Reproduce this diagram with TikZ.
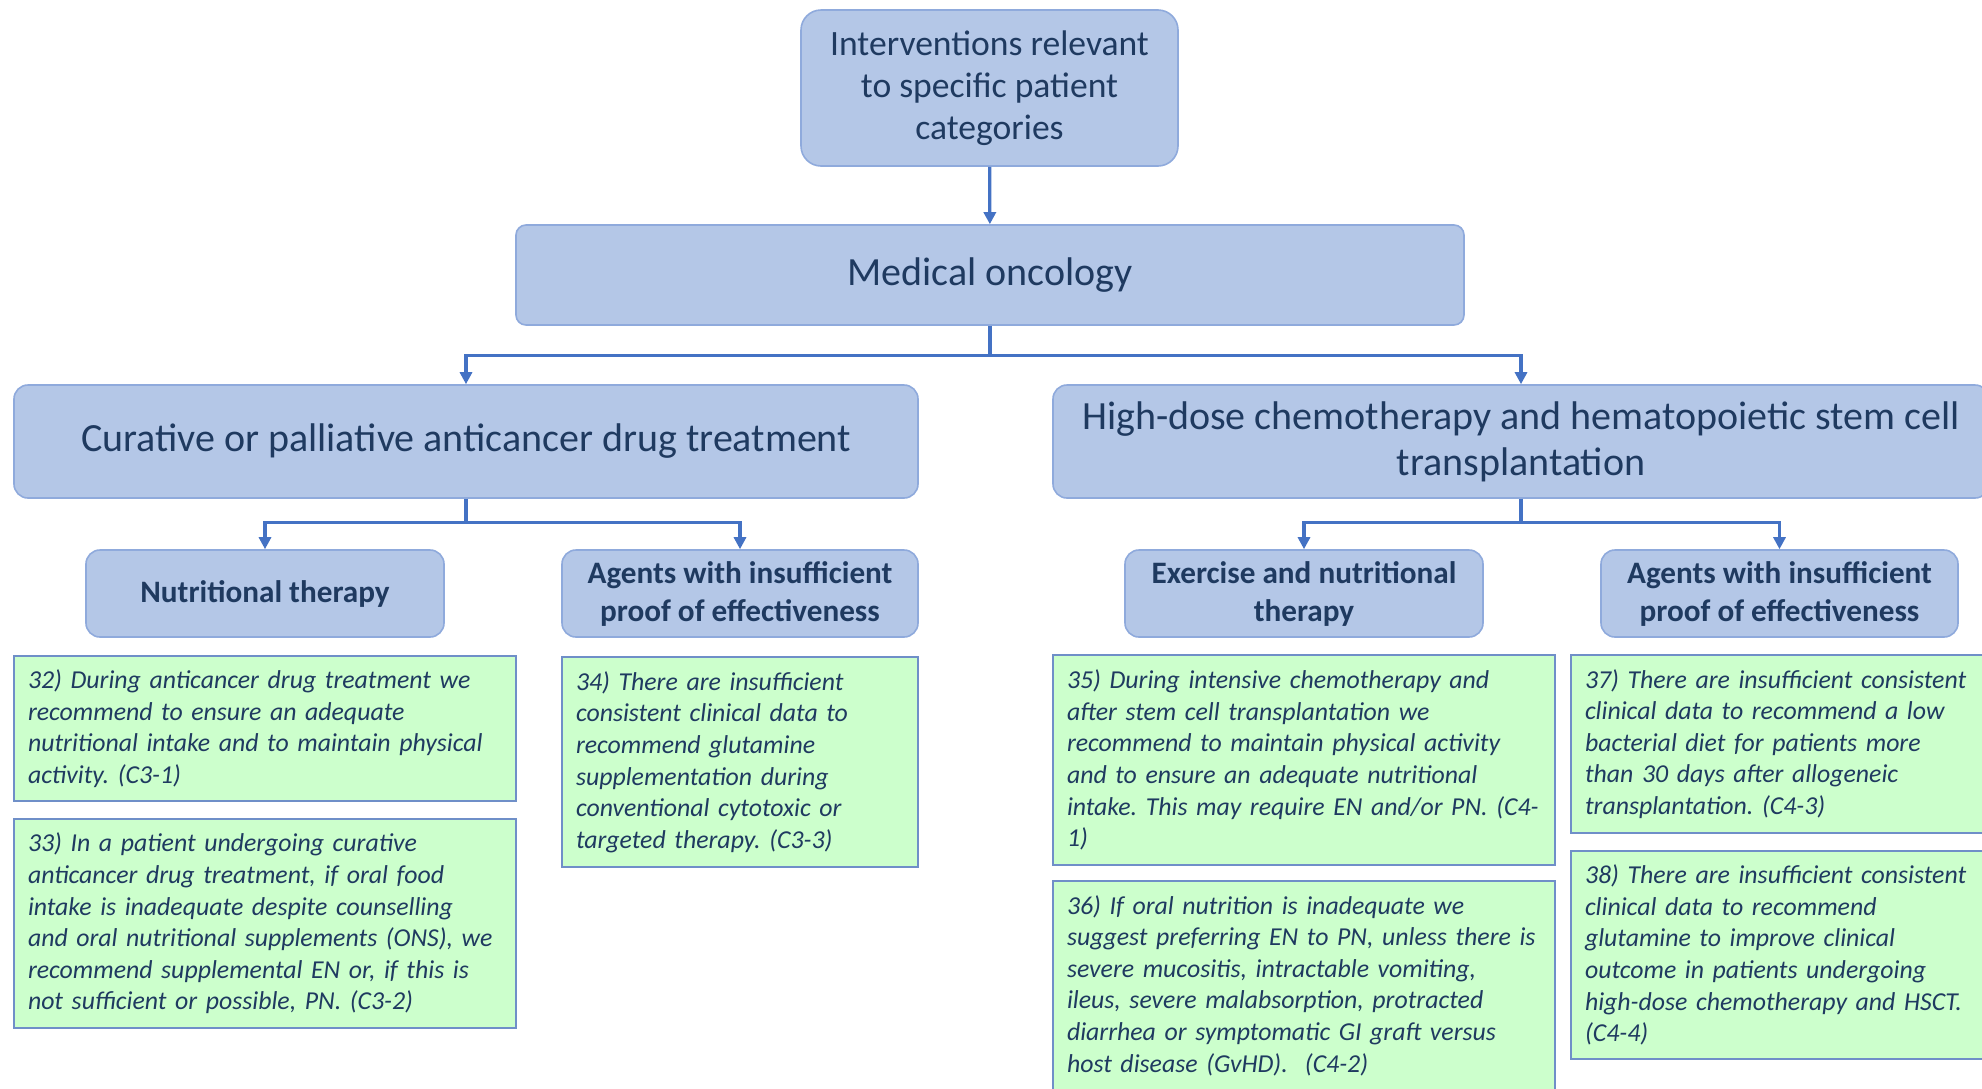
\documentclass[tikz,border=0pt]{standalone}
\usepackage{fontspec}
\setmainfont{Carlito}
\frenchspacing
\usetikzlibrary{arrows.meta,positioning}
\definecolor{boxblue}{HTML}{B4C7E7}
\definecolor{edgeblue}{HTML}{8FAADC}
\definecolor{lineblue}{HTML}{4472C4}
\definecolor{navytext}{HTML}{1F3A60}
\definecolor{boxgreen}{HTML}{CCFFCC}
\definecolor{edgegreen}{HTML}{6F8FC8}
\begin{document}
\begin{tikzpicture}[x=0.5pt,y=-0.5pt,
  bluebox/.style={draw=edgeblue,fill=boxblue,line width=0.8pt,rounded corners=7pt,text=navytext,align=center,inner sep=2pt},
  subbox/.style={bluebox,font=\fontsize{15.6}{19}\selectfont\bfseries,minimum height=43.5pt},
  greenbox/.style={draw=edgegreen,fill=boxgreen,line width=0.8pt,text=navytext,align=left,inner xsep=7pt,inner ysep=0pt,font=\fontsize{12.9}{15.8}\selectfont\itshape},
  arr/.style={draw=lineblue,line width=1.6pt,-{Triangle[length=6pt,width=6pt]}}]
\useasboundingbox[fill=white] (0,0) rectangle (1982,1088);

\node[bluebox,rounded corners=10pt,minimum width=188.5pt,minimum height=78pt,font=\fontsize{17.8}{21}\selectfont](top) at (989.5,88)
  {Interventions relevant\\to specific patient\\categories};
\node[bluebox,rounded corners=5pt,minimum width=474pt,minimum height=50pt,font=\fontsize{20}{23}\selectfont](med) at (990,275) {Medical oncology};

\node[bluebox,minimum width=452pt,minimum height=56.5pt,font=\fontsize{20}{23}\selectfont](cur) at (466,441.5)
  {Curative or palliative anticancer drug treatment};
\node[bluebox,minimum width=468pt,minimum height=56.5pt,font=\fontsize{20}{23}\selectfont](hdc) at (1521,441.5)
  {High-dose chemotherapy and hematopoietic stem cell\\transplantation};

\node[subbox,minimum width=179pt](nut) at (265,593.5) {Nutritional therapy};
\node[subbox,minimum width=178pt](agl) at (740,593.5) {Agents with insufficient\\proof of effectiveness};
\node[subbox,minimum width=179pt](exe) at (1304,593.5) {Exercise and nutritional\\therapy};
\node[subbox,minimum width=178.5pt](agr) at (1779.5,593.5) {Agents with insufficient\\proof of effectiveness};

% recommendations
\node[greenbox,text width=237pt,minimum height=72.5pt](r32) at (265,728.5)
  {32) During anticancer drug treatment we\\recommend to ensure an adequate\\nutritional intake and to maintain physical\\activity. (C3-1)};
\node[greenbox,text width=237pt,minimum height=104.5pt](r33) at (265,923.5)
  {33) In a patient undergoing curative\\anticancer drug treatment, if oral food\\intake is inadequate despite counselling\\and oral nutritional supplements (ONS), we\\recommend supplemental EN or, if this is\\not sufficient or possible, PN. (C3-2)};
\node[greenbox,text width=164pt,minimum height=105pt](r34) at (740,762)
  {34) There are insufficient\\consistent clinical data to\\recommend glutamine\\supplementation during\\conventional cytotoxic or\\targeted therapy. (C3-3)};
\node[greenbox,text width=237pt,minimum height=105pt](r35) at (1304,760)
  {35) During intensive chemotherapy and\\after stem cell transplantation we\\recommend to maintain physical activity\\and to ensure an adequate nutritional\\intake. This may require EN and/or PN.~(C4-\\1)};
\node[greenbox,text width=237pt,minimum height=104.5pt](r36) at (1304,985.5)
  {36) If oral nutrition is inadequate we\\suggest preferring EN to PN, unless there is\\severe mucositis, intractable vomiting,\\ileus, severe malabsorption, protracted\\diarrhea or symptomatic GI graft versus\\host disease (GvHD).~~(C4-2)};
\node[greenbox,text width=195.5pt,minimum height=89pt](r37) at (1780.5,744)
  {37) There are insufficient consistent\\clinical data to recommend a low\\bacterial diet for patients more\\than 30 days after allogeneic\\transplantation. (C4-3)};
\node[greenbox,text width=195.5pt,minimum height=104pt](r38) at (1780.5,955)
  {38) There are insufficient consistent\\clinical data to recommend\\glutamine to improve clinical\\outcome in patients undergoing\\high-dose chemotherapy and HSCT.\\(C4-4)};

\draw[arr] (top) -- (med);
\foreach \b in {cur,hdc}
  \draw[arr] (med.south) -- ++(0,-15pt) -| (\b.north);
\foreach \a/\b in {cur/nut,cur/agl,hdc/exe,hdc/agr}
  \draw[arr] (\a.south) -- ++(0,-12pt) -| (\b.north);
\end{tikzpicture}
\end{document}
